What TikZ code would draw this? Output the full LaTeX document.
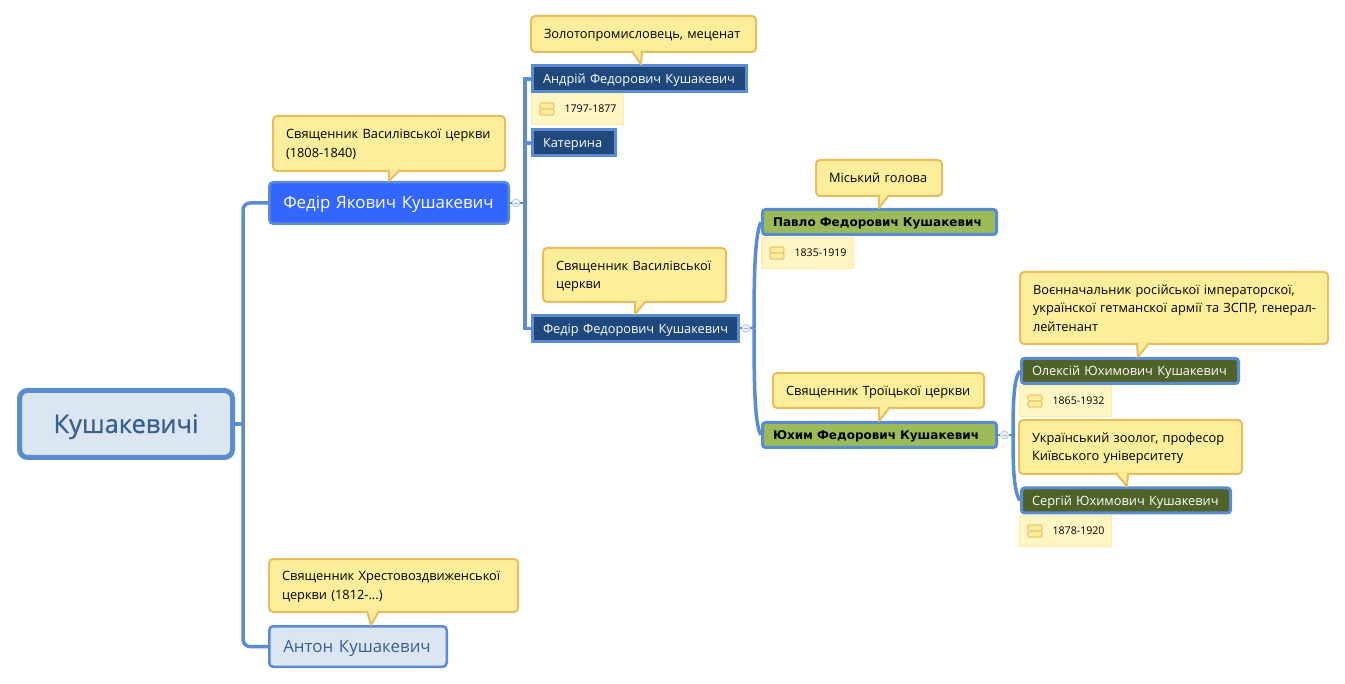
\documentclass[tikz,border=0pt]{standalone}
\usepackage{fontspec}
\setmainfont{Open Sans}
\newfontfamily\boldfont[BoldFont={DejaVu Sans Bold}]{DejaVu Sans}
\newfontfamily\rootfont[FakeBold=0.8]{Open Sans}
\definecolor{linkblue}{HTML}{5B8BD0}
\definecolor{rootfill}{HTML}{DCE6F2}
\definecolor{rootink}{HTML}{376092}
\definecolor{brightblue}{HTML}{3366FF}
\definecolor{darkblue}{HTML}{1F497D}
\definecolor{leafgreen}{HTML}{9BBB59}
\definecolor{olive}{HTML}{4F6228}
\definecolor{notefill}{HTML}{FDEE9C}
\definecolor{noteline}{HTML}{E9BC5C}
\definecolor{datefill}{HTML}{FFF6C3}
\definecolor{dateline}{HTML}{FBEDA8}
\tikzset{
	branch/.style={draw=linkblue,line width=3.5pt},
	stub/.style={draw=linkblue,line width=2pt},
	topic/.style={draw=linkblue,minimum width=#1,text width={#1-21pt},inner xsep=10.5pt,inner ysep=0pt,align=left,text height=9.3pt,text depth=0pt},
	rootbox/.style={draw=linkblue,line width=5pt,rounded corners=8pt,fill=rootfill,text=rootink,font=\rootfont\fontsize{25.5}{28}\selectfont,align=center,text height=18pt,text depth=0pt},
	bluetopic/.style={topic=#1,line width=2.5pt,rounded corners=4pt,inner xsep=14pt,text width={#1-28pt},text height=12pt,font=\fontsize{16.9}{20}\selectfont},
	darktopic/.style={topic=#1,line width=3pt,fill=darkblue,text=white,minimum height=26pt,font=\fontsize{12.8}{16}\selectfont},
	greentopic/.style={topic=#1,line width=3pt,rounded corners=3pt,fill=leafgreen,text=black,minimum height=25pt,text height=8.8pt,font=\boldfont\fontsize{12}{16}\selectfont\bfseries},
	olivetopic/.style={topic=#1,line width=3pt,rounded corners=3pt,fill=olive,text=white,minimum height=25pt,font=\fontsize{12.8}{16}\selectfont},
	notebox/.style={draw=noteline,fill=notefill,line width=2pt,rounded corners=4pt,minimum width=#1,text width={#1-26pt},inner xsep=13pt,inner ysep=0pt,align=left,text height=9.3pt,text depth=0pt,font=\fontsize{12.8}{18.5}\selectfont},
	twolines/.style={text depth=18.5pt},
	threelines/.style={text depth=37pt},
	notetip/.style={draw=noteline,fill=notefill,line width=2pt,line join=round},
	datebox/.style={draw=dateline,fill=datefill,line width=1pt,minimum width=92pt,minimum height=31pt,text width=78pt,inner xsep=7pt,inner ysep=0pt,align=right,text height=8pt,text depth=0pt,font=\fontsize{10.6}{14}\selectfont},
	datebar/.style={draw=noteline!85!white,fill=notefill,line width=1.2pt,rounded corners=1.5pt},
	togglebox/.style={circle,draw=linkblue!45!white,fill=rootfill!60!white,line width=.8pt,minimum size=8pt,inner sep=0pt}
}
\newcommand{\notetail}[5]{\filldraw[notetip] ([yshift=2pt]#3,0 |- #1.south) -- (#5,0 |- #2.north) -- ([yshift=2pt]#4,0 |- #1.south);}
\begin{document}
\begin{tikzpicture}[x=1pt,y=-1pt]
	\useasboundingbox (0,0) rectangle (1345,684);
	% topics
	\node[rootbox,minimum width=213pt,minimum height=67pt] (root) at (126,424) {Кушакевичі};
	\node[bluetopic=239.5pt,minimum height=41.5pt,fill=brightblue,text=white] (fedir) at (389,203) {Федір~Якович~Кушакевич};
	\node[bluetopic=177.5pt,minimum height=40.5pt,fill=rootfill,text=rootink] (anton) at (358,646.5) {Антон~Кушакевич};
	\node[darktopic=214pt] (andrii) at (639.5,79) {Андрій~Федорович~Кушакевич};
	\node[darktopic=83pt] (kateryna) at (574,143) {Катерина};
	\node[darktopic=206pt] (fedirf) at (635.5,328.5) {Федір~Федорович~Кушакевич};
	\node[greentopic=234pt] (pavlo) at (879.5,222) {Павло~Федорович~Кушакевич};
	\node[greentopic=234pt] (yukhym) at (879.5,435) {Юхим~Федорович~Кушакевич};
	\node[olivetopic=217pt] (oleksii) at (1130,371) {Олексій~Юхимович~Кушакевич};
	\node[olivetopic=209pt] (serhii) at (1126,500.5) {Сергій~Юхимович~Кушакевич};
	% dates
	\node[datebox] (dateandrii) at (577.5,109) {1797-1877};
	\node[datebox] (datepavlo) at (807.5,253) {1835-1919};
	\node[datebox] (dateoleksii) at (1065.5,401) {1865-1932};
	\node[datebox] (dateserhii) at (1065.5,531) {1878-1920};
	\foreach \d in {dateandrii,datepavlo,dateoleksii,dateserhii} {
		\draw[datebar] ([xshift=9pt,yshift=6pt]\d.west) rectangle ([xshift=23pt]\d.west);
		\draw[datebar] ([xshift=9pt]\d.west) rectangle ([xshift=23pt,yshift=-6pt]\d.west);
	}
	% notes
	\node[notebox=232pt,twolines,minimum height=55pt] (notefedir) at (389,143.5) {Священник~Василівської~церкви\\(1808-1840)};
	\node[notebox=225pt,minimum height=36pt] (noteandrii) at (643.5,34) {Золотопромисловець,~меценат};
	\node[notebox=183pt,twolines,minimum height=54pt] (notefedirf) at (634.5,275) {Священник~Василівської\\церкви};
	\node[notebox=126pt,minimum height=36pt] (notepavlo) at (879,178) {Міський~голова};
	\node[notebox=211pt,minimum height=35pt] (noteyukhym) at (878.5,390.5) {Священник~Троїцької~церкви};
	\node[notebox=308pt,threelines,minimum height=72pt] (noteoleksii) at (1174,308) {Воєнначальник~російської~імператорскої,\\українскої~гетманскої~армії~та~ЗСПР,~\mbox{генерал-}\\лейтенант};
	\node[notebox=223pt,twolines,minimum height=54pt] (noteserhii) at (1130.5,447) {Український~зоолог,~професор\\Київського~університету};
	\node[notebox=249pt,twolines,minimum height=53pt] (noteanton) at (393.5,585.5) {Священник~Хрестовоздвиженської\\церкви~(1812-...)};
	\notetail{notefedir}{fedir}{389}{400}{389}
	\notetail{noteandrii}{andrii}{632}{642}{641}
	\notetail{notefedirf}{fedirf}{635}{646}{635}
	\notetail{notepavlo}{pavlo}{879}{889}{879}
	\notetail{noteyukhym}{yukhym}{879}{890}{879}
	\notetail{noteoleksii}{oleksii}{1137}{1149}{1138}
	\notetail{noteserhii}{serhii}{1116}{1128}{1127}
	\notetail{noteanton}{anton}{367}{379}{371}
	% toggles
	\node[togglebox] (togglefedir) at (516,203) {};
	\node[togglebox] (togglefedirf) at (746,328.5) {};
	\node[togglebox] (toggleyukhym) at (1004.5,435) {};
	\foreach \t in {togglefedir,togglefedirf,toggleyukhym}
		\draw[linkblue!60!white,line width=.8pt] ([xshift=-2pt]\t.center) -- ([xshift=2pt]\t.center);
	% links
	\coordinate (trunkroot) at (243,424);
	\coordinate (trunkfedir) at (525,203);
	\coordinate (trunkfedirf) at (754,328.5);
	\coordinate (trunkyukhym) at (1013,435);
	\draw[branch] (root.east) -- (trunkroot);
	\draw[branch,rounded corners=7pt] (fedir.west) -| (trunkroot) |- (anton.west);
	\draw[stub] (fedir.east) -- (togglefedir);
	\draw[stub] (togglefedir) -- (trunkfedir);
	\draw[branch] (andrii.west) -| (trunkfedir) |- (fedirf.west);
	\draw[branch] (kateryna.west) -| (trunkfedir);
	\draw[stub] (fedirf.east) -- (togglefedirf);
	\draw[stub] (togglefedirf) -- (trunkfedirf);
	\draw[branch] (pavlo.west) .. controls (755,235) and (754,270) .. (trunkfedirf);
	\draw[branch] (yukhym.west) .. controls (755,425) and (754,390) .. (trunkfedirf);
	\draw[stub] (yukhym.east) -- (toggleyukhym);
	\draw[stub] (toggleyukhym) -- (trunkyukhym);
	\draw[branch] (oleksii.west) .. controls (1014,378) and (1013,400) .. (trunkyukhym);
	\draw[branch] (serhii.west) .. controls (1014,492) and (1013,470) .. (trunkyukhym);
\end{tikzpicture}
\end{document}
